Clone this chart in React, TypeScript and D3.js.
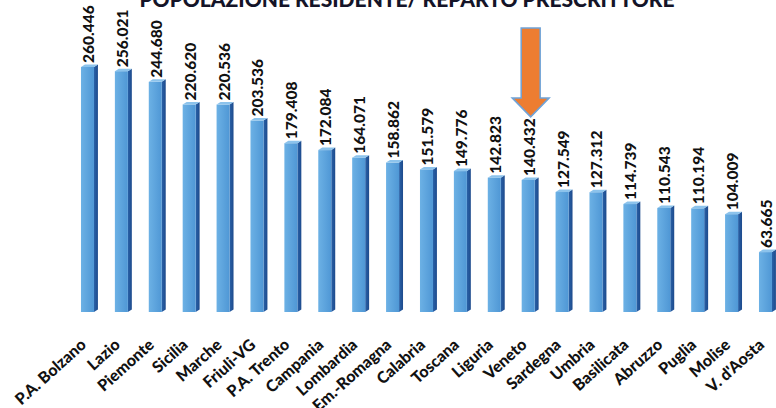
import React from "react";
import * as d3 from "d3";

const regions = [
  "P.A. Bolzano", "Lazio", "Piemonte", "Sicilia", "Marche", "Friuli-VG",
  "P.A. Trento", "Campania", "Lombardia", "Em.-Romagna", "Calabria",
  "Toscana", "Liguria", "Veneto", "Sardegna", "Umbria", "Basilicata",
  "Abruzzo", "Puglia", "Molise", "V. d'Aosta",
];
const values = [
  260.446, 256.021, 244.68, 220.62, 220.536, 203.536, 179.408, 172.084,
  164.071, 158.862, 151.579, 149.776, 142.823, 140.432, 127.549, 127.312,
  114.739, 110.543, 110.194, 104.009, 63.665,
];
const valueLabels = [
  "260.446", "256.021", "244.680", "220.620", "220.536", "203.536", "179.408",
  "172.084", "164.071", "158.862", "151.579", "149.776", "142.823", "140.432",
  "127.549", "127.312", "114.739", "110.543", "110.194", "104.009", "63.665",
];
const highlighted = "Veneto";
const title = "POPOLAZIONE RESIDENTE/ REPARTO PRESCRITTORE";

const W = 776;
const H = 408;
const FONT = "Lato, 'Open Sans', 'DejaVu Sans', sans-serif";

export default function App() {
  const x = d3
    .scaleBand<string>()
    .domain(regions)
    .range([72.5, 72.5 + 21 * 33.9])
    .paddingInner(0.5)
    .paddingOuter(0.25);
  const y = d3.scaleLinear().domain([0, 260.446]).range([312, 67]);

  const front = 13;
  const side = x.bandwidth() - front;
  const lift = 2.5;
  const labelGap = 4;
  const labelLen = 54;

  // arrow pointing down at the highlighted region's value label
  const hi = regions.indexOf(highlighted);
  const hx = (x(highlighted) ?? 0) + front / 2 + 2.5;
  const tipY = y(values[hi]) - labelGap - labelLen - 5;
  const headTop = tipY - 19;
  const shaftTop = tipY - 89;
  const arrow = [
    [hx - 9.5, shaftTop],
    [hx + 9.5, shaftTop],
    [hx + 9.5, headTop],
    [hx + 18.5, headTop],
    [hx, tipY],
    [hx - 18.5, headTop],
    [hx - 9.5, headTop],
  ];

  return (
    <svg
      width={W}
      height={H}
      style={{ position: "absolute", left: 0, top: 0, background: "#fff" }}
    >
      <defs>
        <linearGradient id="barFront" x1="0" x2="1" y1="0" y2="0">
          <stop offset="0" stopColor="#6cb1e5" />
          <stop offset="1" stopColor="#4f97d5" />
        </linearGradient>
        <linearGradient id="barSide" x1="0" x2="1" y1="0" y2="0">
          <stop offset="0" stopColor="#2a62a8" />
          <stop offset="1" stopColor="#1d4a8c" />
        </linearGradient>
      </defs>
      <rect width={W} height={H} fill="#fff" />

      <text
        x={407}
        y={7}
        textAnchor="middle"
        fontFamily={FONT}
        fontWeight={900}
        fontSize={21}
        fill="#141428"
      >
        {title}
      </text>

      {regions.map((r, i) => {
        const bx = x(r) ?? 0;
        const top = y(values[i]);
        const base = y(0);
        return (
          <g key={r}>
            <polygon
              points={[
                [bx + front, top],
                [bx + front + side, top - lift],
                [bx + front + side, base - lift],
                [bx + front, base],
              ].join(" ")}
              fill="url(#barSide)"
            />
            <rect
              x={bx}
              y={top}
              width={front}
              height={base - top}
              fill="url(#barFront)"
            />
            <polygon
              points={[
                [bx, top],
                [bx + front, top],
                [bx + front + side, top - lift],
                [bx + side, top - lift],
              ].join(" ")}
              fill="#8cc3ec"
            />
            <text
              transform={`translate(${bx + front / 2 + 1},${top - labelGap}) rotate(-90)`}
              dy="0.35em"
              textAnchor="start"
              fontFamily={FONT}
              fontWeight={900}
              fontSize={15.5}
              fill="#111"
            >
              {valueLabels[i]}
            </text>
            <text
              transform={`translate(${bx + front / 2 - 4},${base + 30}) rotate(-42)`}
              dy="0.35em"
              textAnchor="end"
              fontFamily={FONT}
              fontWeight={900}
              fontSize={16}
              fill="#111"
            >
              {r}
            </text>
          </g>
        );
      })}

      <polygon
        points={arrow.join(" ")}
        fill="#ed7d31"
        stroke="#6fa3d8"
        strokeWidth={1.5}
      />
    </svg>
  );
}
